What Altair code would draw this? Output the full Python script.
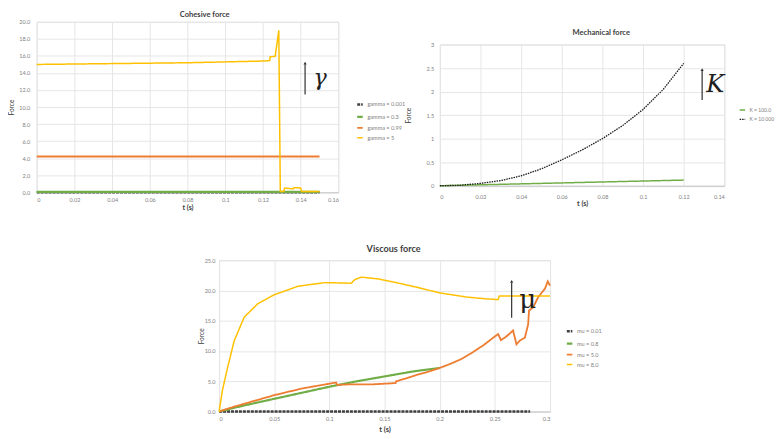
import altair as alt
import pandas as pd

# ---------------- data ----------------
# Cohesive force
coh_series = ["gamma = 0.001", "gamma = 0.3", "gamma = 0.99", "gamma = 5"]
coh_t_flat = [0.0, 0.15]
coh_g0001 = [0.0, 0.0]
coh_g03 = [0.05, 0.05]
coh_g099 = [4.2, 4.2]
coh_t_g5 = [0.0, 0.02, 0.04, 0.06, 0.08, 0.10, 0.12, 0.1236, 0.1238, 0.1265, 0.1268,
            0.1278, 0.1284, 0.1292, 0.1300, 0.1310, 0.1315, 0.1360, 0.1365, 0.1400,
            0.1405, 0.15]
coh_g5 = [15.0, 15.05, 15.1, 15.15, 15.2, 15.3, 15.4, 15.45, 15.9, 15.95, 16.5,
          18.0, 19.0, 0.1, 0.1, 0.1, 0.5, 0.4, 0.55, 0.5, 0.1, 0.1]

# Mechanical force
mech_series = ["K = 100.0", "K = 10 000"]
mech_t = [0.0, 0.01, 0.02, 0.03, 0.04, 0.05, 0.06, 0.07, 0.08, 0.09, 0.10, 0.11, 0.12]
mech_k100 = [0.0, 0.01, 0.02, 0.03, 0.04, 0.05, 0.06, 0.07, 0.08, 0.09, 0.10, 0.11, 0.12]
mech_k10000 = [0.0, 0.01, 0.05, 0.11, 0.21, 0.36, 0.55, 0.76, 1.0, 1.28, 1.62, 2.05, 2.6]

# Viscous force
visc_series = ["mu = 0.01", "mu = 0.8", "mu = 5.0", "mu = 8.0"]
visc_t_mu001 = [0.0, 0.282]
visc_mu001 = [0.0, 0.0]
visc_t_mu08 = [0.0, 0.01, 0.025, 0.05, 0.075, 0.1, 0.125, 0.15, 0.175, 0.2]
visc_mu08 = [0.0, 0.45, 1.1, 2.1, 3.1, 4.1, 5.0, 5.8, 6.6, 7.2]
visc_t_mu5 = [0.0, 0.01, 0.025, 0.05, 0.075, 0.1, 0.106, 0.107, 0.12, 0.14, 0.16, 0.1605,
              0.17, 0.18, 0.19, 0.2, 0.21, 0.22, 0.23, 0.24, 0.25, 0.253, 0.2555, 0.259,
              0.263, 0.2665, 0.2696, 0.2726, 0.2772, 0.2802, 0.281, 0.2847, 0.2893,
              0.2954, 0.298, 0.3]
visc_mu5 = [0.0, 0.6, 1.4, 2.7, 3.8, 4.6, 4.8, 4.4, 4.5, 4.5, 4.7, 5.0,
            5.5, 6.1, 6.6, 7.2, 7.9, 8.7, 9.8, 11.0, 12.4, 12.8, 11.8, 12.2,
            12.8, 13.4, 11.1, 11.7, 12.2, 14.4, 16.7, 17.2, 18.9,
            20.3, 21.5, 20.8]
visc_t_mu8 = [0.0, 0.003, 0.0076, 0.0137, 0.0228, 0.035, 0.05, 0.0715, 0.096, 0.12,
              0.123, 0.129, 0.1446, 0.163, 0.18, 0.2, 0.225, 0.243, 0.253, 0.254,
              0.26, 0.3]
visc_mu8 = [0.0, 3.5, 7.2, 11.7, 15.6, 17.8, 19.3, 20.7, 21.3, 21.2,
            21.8, 22.2, 21.9, 21.2, 20.5, 19.6, 18.9, 18.6, 18.5, 19.1,
            19.1, 19.1]

# ---------------- helpers ----------------
FONT = "Lato"
GREY = "#808080"
COLORS4 = ["#404040", "#70AD47", "#ED7D31", "#FFC000"]
S = 1.018  # layout scale


def frame(pairs):
    rows = []
    for name, ts, vs in pairs:
        for t, v in zip(ts, vs):
            rows.append({"t": t, "v": v, "s": name})
    return pd.DataFrame(rows)


def panel(df, series, colors, dashes, widths, xticks, yticks, yfmt, w, h,
          title, tsize, tdx, toff, lx, ly, lfs, ann, ylabpad, ytitlepad, xlabpad, xtitlepad,
          xtitlesize):
    x_axis = alt.Axis(values=xticks, format="~g", title="t (s)", labelFontSize=5.5 * S,
                      labelColor=GREY, gridColor="#e6e6e6", domainColor="#c8c8c8",
                      ticks=False, labelPadding=xlabpad * S, titleFontSize=xtitlesize * S,
                      titleColor="#404040", titlePadding=xtitlepad * S, labelFont=FONT,
                      titleFont=FONT, titleFontWeight="bold")
    y_axis = alt.Axis(values=yticks, format=yfmt, title="Force", domain=False, ticks=False,
                      labelFontSize=5.5 * S, labelColor=GREY, gridColor="#e6e6e6",
                      labelPadding=ylabpad * S, titleFontSize=6.5 * S, titleColor="#404040",
                      titlePadding=ytitlepad * S, labelFont=FONT, titleFont=FONT,
                      titleFontWeight="normal")
    lines = alt.Chart(df).mark_line().encode(
        x=alt.X("t:Q", scale=alt.Scale(domain=[xticks[0], xticks[-1]], nice=False), axis=x_axis),
        y=alt.Y("v:Q", scale=alt.Scale(domain=[yticks[0], yticks[-1]], nice=False), axis=y_axis),
        color=alt.Color("s:N", scale=alt.Scale(domain=series, range=colors),
                        legend=alt.Legend(orient="none", legendX=lx * S, legendY=ly * S, title=None,
                                          labelFontSize=lfs * S, labelColor=GREY, labelFont=FONT,
                                          symbolType="stroke", symbolSize=31, labelOffset=3 * S,
                                          symbolStrokeWidth=1.5, rowPadding=2 * S, padding=0)),
        strokeDash=alt.StrokeDash("s:N", scale=alt.Scale(domain=series, range=dashes), legend=None),
        strokeWidth=alt.StrokeWidth("s:N", scale=alt.Scale(domain=series, range=widths), legend=None),
        order="t:Q",
    )
    one = pd.DataFrame({"a": [0]})
    ax, ay1, ay2, tx, ty, letter, fsize, fstyle = ann
    arrow = alt.Chart(one).mark_rule(color="#303030", strokeWidth=1.2).encode(
        x=alt.value(ax * S), y=alt.value((ay1 + 2) * S), y2=alt.value(ay2 * S))
    head = alt.Chart(one).mark_point(shape="triangle-up", filled=True, size=10,
                                     color="#303030", opacity=1).encode(
        x=alt.value(ax * S), y=alt.value((ay1 + 1) * S))
    text = alt.Chart(one).mark_text(text=letter, fontSize=fsize * S, font="DejaVu Serif",
                                    fontStyle=fstyle, color="#202020").encode(
        x=alt.value(tx * S), y=alt.value(ty * S))
    return alt.layer(lines, arrow, head, text).properties(
        width=w * S, height=h * S,
        title=alt.TitleParams(title, fontSize=tsize * S, fontWeight="bold", color="#404040",
                              font=FONT, anchor="middle", dx=tdx * S, offset=toff * S))


def spacer(w, h):
    return alt.Chart(pd.DataFrame({"a": [0]})).mark_point(opacity=0).properties(width=w, height=h)


# ---------------- panels ----------------
coh_df = frame([(coh_series[0], coh_t_flat, coh_g0001),
                (coh_series[1], coh_t_flat, coh_g03),
                (coh_series[2], coh_t_flat, coh_g099),
                (coh_series[3], coh_t_g5, coh_g5)])
coh = panel(coh_df, coh_series, COLORS4, [[3, 1], [1, 0], [1, 0], [1, 0]], [2.5, 1.5, 1.5, 1.5],
            [0, 0.02, 0.04, 0.06, 0.08, 0.1, 0.12, 0.14, 0.16],
            [0, 2, 4, 6, 8, 10, 12, 14, 16, 18, 20], ".1f", 299, 169,
            "Cohesive force", 7.5, 17, 1, 316, 77.5, 5.5,
            (266, 40, 72, 281, 56, "γ", 22, "italic"), 7, 4, 5, 1, 7)

mech_df = frame([(mech_series[0], mech_t, mech_k100),
                 (mech_series[1], mech_t, mech_k10000)])
mech = panel(mech_df, mech_series, ["#70AD47", "#1a1a1a"], [[1, 0], [1.5, 1]], [1.5, 1.3],
             [0, 0.02, 0.04, 0.06, 0.08, 0.1, 0.12, 0.14],
             [0, 0.5, 1, 1.5, 2, 2.5, 3], "~g", 282, 140,
             "Mechanical force", 7.5, 19, 5.5, 296, 61, 5,
             (260, 24, 55, 273, 40, "K", 24, "italic"), 6, 14, 8.5, 0, 7)

visc_df = frame([(visc_series[0], visc_t_mu001, visc_mu001),
                 (visc_series[1], visc_t_mu08, visc_mu08),
                 (visc_series[2], visc_t_mu5, visc_mu5),
                 (visc_series[3], visc_t_mu8, visc_mu8)])
visc = panel(visc_df, visc_series, COLORS4, [[3, 1], [1, 0], [1, 0], [1, 0]], [2.5, 1.5, 1.8, 2.0],
             [0, 0.05, 0.1, 0.15, 0.2, 0.25, 0.3],
             [0, 5, 10, 15, 20, 25], ".1f", 328, 150,
             "Viscous force", 9, 9, 4.5, 343, 66, 5.5,
             (290, 20, 57, 306, 40, "μ", 26, "normal"), 4, 0, 5, 3, 7.5)

res = dict(x="independent", y="independent", color="independent",
           strokeDash="independent", strokeWidth="independent")

right = alt.vconcat(spacer(1, 1), mech, spacing=21.5 * S, bounds="flush").resolve_scale(**res)
top = alt.hconcat(coh, right, spacing=100 * S, bounds="flush").resolve_scale(**res)
bottom = alt.hconcat(spacer(1, 1), visc, spacing=179.8 * S, bounds="flush").resolve_scale(**res)

chart = alt.vconcat(top, bottom, spacing=31 * S, bounds="full").resolve_scale(**res).properties(
    padding={"left": 0, "top": 0, "right": 0, "bottom": 0}
).configure_view(stroke=None).configure(font=FONT, background="white")

chart.save("out.html", embed_options={"renderer": "svg", "actions": False})
